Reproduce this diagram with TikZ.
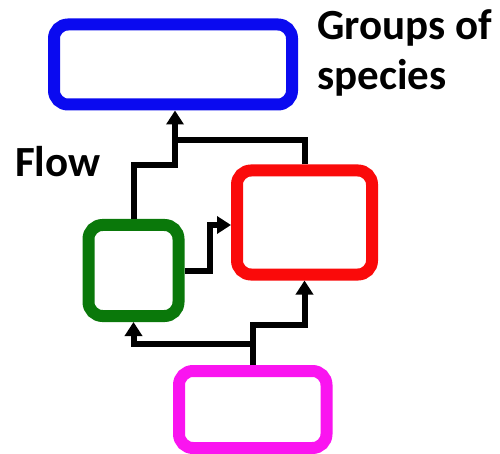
\documentclass[tikz,border=0pt]{standalone}
\usepackage{fontspec}
\setmainfont{Carlito}
\usetikzlibrary{arrows.meta}
\definecolor{bxblue}{RGB}{10,10,240}
\definecolor{bxred}{RGB}{250,10,10}
\definecolor{bxgreen}{RGB}{10,120,10}
\definecolor{bxmag}{RGB}{250,20,240}
\begin{document}
\begin{tikzpicture}[x=1pt,y=-1pt,
  boxst/.style={draw, line width=12pt, rounded corners=14pt, fill=white, inner sep=0pt},
  flow/.style={line width=6pt, -{Triangle[length=14pt,width=17pt]}},
  flowline/.style={line width=6pt},
  lbl/.style={font=\bfseries\fontsize{43}{50}\selectfont, inner sep=0pt, align=left}]
\useasboundingbox (0,0) rectangle (500,454);
\fill[white] (0,0) rectangle (500,454);
\node[boxst, draw=bxblue, minimum width=238pt, minimum height=80pt] (b) at (173,64.5) {};
\node[boxst, draw=bxred, minimum width=135pt, minimum height=104pt] (r) at (304.5,222.5) {};
\node[boxst, draw=bxgreen, minimum width=90pt, minimum height=91pt] (g) at (133.5,270.5) {};
\node[boxst, draw=bxmag, minimum width=147.5pt, minimum height=77pt] (m) at (252.75,409.5) {};
\node[lbl, anchor=base west] (t1) at (317,40) {Groups of};
\node[lbl, anchor=base west] (t2) at (317,90) {species};
\node[lbl, anchor=base west] (t3) at (15,177) {Flow};
\coordinate (jb) at (175,165.5);
\coordinate (jt) at (175,140);
\coordinate (k) at (210,225);
\draw[flowline] (g.north) |- (jb) -- (jt);
\draw[flowline] (r.north) |- (jt);
\draw[flow] (jt) -- (jt |- b.south);
\draw[flow] (g.east) -| (k) -- (k -| r.west);
\draw[flow] (m.north) -- ++(0,-21) -| (g.south);
\draw[flow] (m.north) -- ++(0,-40) -| (r.south);
\end{tikzpicture}
\end{document}
